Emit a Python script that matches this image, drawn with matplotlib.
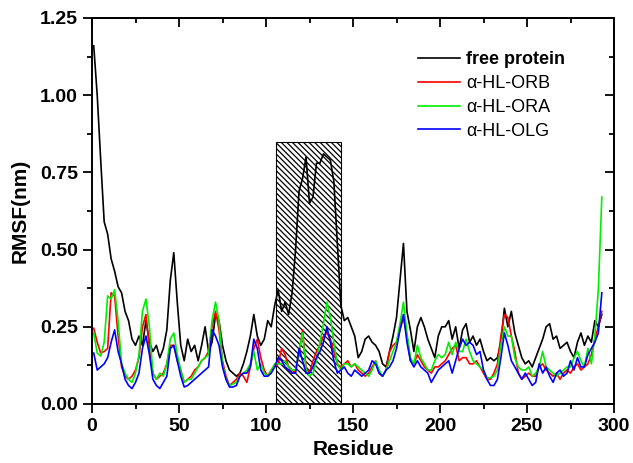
import numpy as np
import matplotlib
matplotlib.use("Agg")
import matplotlib.pyplot as plt
from matplotlib.patches import Rectangle
from matplotlib.ticker import MultipleLocator, FormatStrFormatter

plt.rcParams['font.family'] = ['Liberation Sans', 'DejaVu Sans']
plt.rcParams['hatch.linewidth'] = 0.9

residues = list(range(1, 294, 2))

free_protein = [
    1.16, 1.00, 0.79, 0.59, 0.55, 0.47, 0.43, 0.38, 0.36, 0.30,
    0.27, 0.21, 0.19, 0.22, 0.19, 0.27, 0.20, 0.17, 0.19, 0.15,
    0.18, 0.24, 0.40, 0.49, 0.33, 0.19, 0.14, 0.21, 0.17, 0.19,
    0.14, 0.19, 0.25, 0.17, 0.20, 0.29, 0.27, 0.19, 0.14, 0.11,
    0.10, 0.09, 0.10, 0.13, 0.17, 0.22, 0.29, 0.22, 0.19, 0.21,
    0.27, 0.25, 0.32, 0.37, 0.30, 0.33, 0.29, 0.36, 0.50, 0.69,
    0.73, 0.80, 0.65, 0.67, 0.78, 0.78, 0.81, 0.80, 0.79, 0.72,
    0.52, 0.32, 0.27, 0.28, 0.25, 0.22, 0.15, 0.17, 0.21, 0.22,
    0.20, 0.19, 0.17, 0.13, 0.12, 0.17, 0.22, 0.28, 0.40, 0.52,
    0.30, 0.24, 0.17, 0.25, 0.28, 0.25, 0.21, 0.18, 0.15, 0.22,
    0.25, 0.25, 0.27, 0.21, 0.25, 0.18, 0.24, 0.26, 0.20, 0.22,
    0.19, 0.21, 0.17, 0.14, 0.15, 0.14, 0.15, 0.20, 0.31, 0.25,
    0.30, 0.23, 0.19, 0.15, 0.13, 0.14, 0.12, 0.15, 0.18, 0.21,
    0.25, 0.26, 0.21, 0.22, 0.18, 0.19, 0.20, 0.17, 0.15, 0.20,
    0.23, 0.19, 0.22, 0.20, 0.27, 0.25, 0.29,
]

hl_orb = [
    0.245, 0.20, 0.165, 0.17, 0.18, 0.36, 0.35, 0.22, 0.12, 0.09,
    0.08, 0.09, 0.11, 0.15, 0.25, 0.29, 0.18, 0.10, 0.08, 0.09,
    0.10, 0.13, 0.19, 0.19, 0.14, 0.11, 0.07, 0.08, 0.09, 0.11,
    0.12, 0.14, 0.15, 0.17, 0.25, 0.30, 0.24, 0.14, 0.09, 0.06,
    0.07, 0.08, 0.10, 0.09, 0.07, 0.12, 0.18, 0.21, 0.15, 0.11,
    0.09, 0.11, 0.12, 0.13, 0.18, 0.16, 0.12, 0.10, 0.11, 0.16,
    0.24, 0.12, 0.10, 0.14, 0.17, 0.19, 0.22, 0.23, 0.21, 0.17,
    0.13, 0.12, 0.13, 0.14, 0.12, 0.13, 0.11, 0.10, 0.09, 0.10,
    0.12, 0.14, 0.10, 0.09, 0.11, 0.17, 0.19, 0.20, 0.24, 0.28,
    0.22, 0.14, 0.13, 0.16, 0.14, 0.12, 0.11, 0.10, 0.12, 0.12,
    0.13, 0.14, 0.16, 0.18, 0.19, 0.14, 0.15, 0.15, 0.13, 0.13,
    0.14, 0.12, 0.10, 0.08, 0.08, 0.10, 0.13, 0.22, 0.29, 0.28,
    0.22, 0.17, 0.10, 0.08, 0.09, 0.10, 0.09, 0.09, 0.12, 0.13,
    0.11, 0.10, 0.09, 0.10, 0.08, 0.10, 0.11, 0.10, 0.12, 0.13,
    0.11, 0.12, 0.13, 0.16, 0.21, 0.25, 0.30,
]

hl_ora = [
    0.23, 0.165, 0.155, 0.20, 0.35, 0.34, 0.37, 0.27, 0.13, 0.10,
    0.08, 0.07, 0.10, 0.16, 0.30, 0.34, 0.25, 0.10, 0.08, 0.10,
    0.09, 0.13, 0.21, 0.23, 0.16, 0.11, 0.07, 0.08, 0.08, 0.10,
    0.12, 0.14, 0.15, 0.16, 0.27, 0.33, 0.27, 0.13, 0.08, 0.06,
    0.065, 0.07, 0.09, 0.10, 0.11, 0.13, 0.17, 0.11, 0.13, 0.10,
    0.09, 0.11, 0.13, 0.13, 0.13, 0.14, 0.12, 0.11, 0.11, 0.17,
    0.23, 0.11, 0.09, 0.10, 0.14, 0.20, 0.26, 0.33, 0.28, 0.20,
    0.13, 0.11, 0.13, 0.13, 0.12, 0.13, 0.12, 0.11, 0.10, 0.09,
    0.11, 0.14, 0.11, 0.09, 0.11, 0.14, 0.17, 0.20, 0.26, 0.33,
    0.23, 0.15, 0.13, 0.19, 0.15, 0.13, 0.11, 0.11, 0.14, 0.16,
    0.15, 0.16, 0.20, 0.16, 0.20, 0.17, 0.17, 0.21, 0.17, 0.14,
    0.13, 0.12, 0.11, 0.085, 0.085, 0.09, 0.11, 0.19, 0.25, 0.22,
    0.22, 0.15, 0.12, 0.11, 0.11, 0.12, 0.09, 0.10, 0.12, 0.17,
    0.12, 0.11, 0.10, 0.09, 0.10, 0.11, 0.12, 0.12, 0.15, 0.17,
    0.14, 0.12, 0.18, 0.13, 0.22, 0.37, 0.67,
]

hl_olg = [
    0.165, 0.11, 0.12, 0.13, 0.15, 0.20, 0.24, 0.17, 0.13, 0.08,
    0.06, 0.05, 0.07, 0.10, 0.18, 0.22, 0.16, 0.08, 0.06, 0.05,
    0.07, 0.09, 0.18, 0.19, 0.14, 0.09, 0.055, 0.06, 0.07, 0.08,
    0.09, 0.10, 0.11, 0.12, 0.24, 0.22, 0.19, 0.12, 0.08, 0.055,
    0.055, 0.06, 0.09, 0.10, 0.10, 0.12, 0.21, 0.18, 0.11, 0.09,
    0.09, 0.10, 0.12, 0.15, 0.14, 0.12, 0.11, 0.10, 0.10, 0.18,
    0.14, 0.10, 0.10, 0.12, 0.15, 0.17, 0.20, 0.25, 0.20, 0.14,
    0.10, 0.11, 0.12, 0.10, 0.09, 0.11, 0.10, 0.09, 0.10, 0.11,
    0.14, 0.13, 0.10, 0.09, 0.11, 0.12, 0.14, 0.18, 0.24, 0.29,
    0.20, 0.14, 0.12, 0.14, 0.12, 0.11, 0.10, 0.07, 0.09, 0.11,
    0.12, 0.13, 0.14, 0.10, 0.14, 0.18, 0.21, 0.19, 0.20, 0.19,
    0.16, 0.17, 0.11, 0.08, 0.06, 0.06, 0.08, 0.15, 0.23, 0.19,
    0.14, 0.12, 0.10, 0.08, 0.10, 0.08, 0.06, 0.07, 0.13, 0.10,
    0.12, 0.09, 0.07, 0.10, 0.11, 0.09, 0.10, 0.14, 0.11, 0.15,
    0.12, 0.12, 0.16, 0.18, 0.20, 0.23, 0.36,
]

series_labels = ['free protein', 'α-HL-ORB', 'α-HL-ORA', 'α-HL-OLG']
series_colors = ['black', '#ff0000', '#00ee00', '#0000ff']
highlight_region = [106, 143]
highlight_top = 0.85

fig = plt.figure(figsize=(6.33, 4.63), dpi=100)
ax = fig.add_axes([92 / 633, 1 - 404 / 463, 522 / 633, 386 / 463])

ax.add_patch(Rectangle((highlight_region[0], 0), highlight_region[1] - highlight_region[0],
                       highlight_top, facecolor='white', edgecolor='black',
                       hatch='\\' * 6, linewidth=0.8, zorder=1))

for data, lab, col in zip([free_protein, hl_orb, hl_ora, hl_olg], series_labels, series_colors):
    ax.plot(residues, data, color=col, linewidth=1.2, label=lab, zorder=3)

ax.set_xlim(0, 300)
ax.set_ylim(0, 1.25)
ax.xaxis.set_major_locator(MultipleLocator(50))
ax.xaxis.set_minor_locator(MultipleLocator(25))
ax.yaxis.set_major_locator(MultipleLocator(0.25))
ax.yaxis.set_minor_locator(MultipleLocator(0.125))
ax.yaxis.set_major_formatter(FormatStrFormatter('%.2f'))

ax.tick_params(which='major', direction='out', length=6.5, width=1.3, labelsize=14, pad=3.5)
ax.tick_params(which='minor', direction='out', length=3.5, width=1.3)
for lbl in ax.get_xticklabels() + ax.get_yticklabels():
    lbl.set_fontweight('bold')

secx = ax.secondary_xaxis('top')
secx.xaxis.set_major_locator(MultipleLocator(50))
secx.xaxis.set_minor_locator(MultipleLocator(25))
secx.tick_params(which='major', direction='in', length=6.5, width=1.3, labeltop=False)
secx.tick_params(which='minor', direction='in', length=3.5, width=1.3)
secy = ax.secondary_yaxis('right')
secy.yaxis.set_major_locator(MultipleLocator(0.25))
secy.yaxis.set_minor_locator(MultipleLocator(0.125))
secy.tick_params(which='major', direction='in', length=6.5, width=1.3, labelright=False)
secy.tick_params(which='minor', direction='in', length=3.5, width=1.3)
for s in list(ax.spines.values()) + [secx.spines['top'], secy.spines['right']]:
    s.set_linewidth(1.4)

ax.set_xlabel('Residue', fontsize=15, fontweight='bold')
ax.set_ylabel('RMSF(nm)', fontsize=15, fontweight='bold')
ax.xaxis.set_label_coords(0.5, -0.093)
ax.yaxis.set_label_coords(-0.12, 0.5)

leg = ax.legend(loc='upper left', bbox_to_anchor=(418 / 633, (463 - 51.5) / 463),
                bbox_transform=fig.transFigure, frameon=False, fontsize=13,
                handlelength=2.33, handletextpad=0.33, labelspacing=0.37,
                borderpad=0, borderaxespad=0)
for i, t in enumerate(leg.get_texts()):
    if i == 0:
        t.set_fontweight('bold')

fig.savefig('out.png', dpi=100)
